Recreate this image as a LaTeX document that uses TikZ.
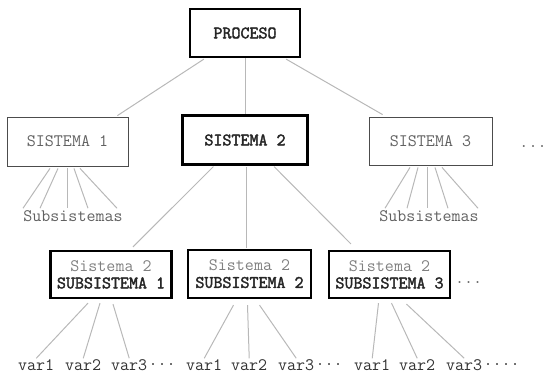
\documentclass[tikz,border=0pt]{standalone}
\usepackage{fontspec}
\newfontfamily\bmono{Latin Modern Mono}[FakeBold=2.2]
\usetikzlibrary{calc}
\definecolor{lgray}{gray}{0.72}
\definecolor{tgray}{gray}{0.38}
\definecolor{sgray}{gray}{0.5}
\definecolor{vgray}{gray}{0.2}
\newcommand{\bt}[1]{{\bmono #1}}
\begin{document}
\begin{tikzpicture}[x=1pt,y=-1pt,
  every node/.style={font=\ttfamily\fontsize{17.5}{17}\selectfont, inner sep=1pt},
  bigbox/.style={draw=black, line width=2.2pt, fill=white, text=black!85, font=\bmono\fontsize{17.5}{17}\selectfont},
  thinbox/.style={draw=black!70, line width=0.8pt, text=tgray},
  subbox/.style={draw=black, line width=2.2pt, align=center, minimum width=121pt, minimum height=47pt},
  conn/.style={draw=lgray, line width=1pt},
  plain/.style={text=tgray},
  vtxt/.style={text=vgray, anchor=west}
]
\useasboundingbox (0,0) rectangle (546,381);

% top
\node[bigbox, minimum width=110pt, minimum height=48pt] (proc) at (245,33) {PROCESO};
\node[thinbox, minimum width=121pt, minimum height=49pt] (s1) at (67.5,141.5) {SISTEMA 1};
\node[bigbox, minimum width=125pt, minimum height=49pt] (s2) at (245,140) {SISTEMA 2};
\node[thinbox, minimum width=123pt, minimum height=48pt] (s3) at (430.5,141) {SISTEMA 3};
\node[plain] (d1) at (533,147) {...};

\node[plain] (ss1) at (73,216) {Subsistemas};
\node[plain] (ss3) at (429,216) {Subsistemas};

% subsystems
\node[subbox] (b1) at (111,274.5) {\textcolor{sgray}{Sistema 2}\\\textcolor{black!85}{\bt{SUBSISTEMA 1}}};
\node[subbox, minimum width=123pt, minimum height=48pt] (b2) at (249.5,274) {\textcolor{sgray}{Sistema 2}\\\textcolor{black!85}{\bt{SUBSISTEMA 2}}};
\node[subbox] (b3) at (389.5,274.5) {\textcolor{sgray}{Sistema 2}\\\textcolor{black!85}{\bt{SUBSISTEMA 3}}};
\node[plain, anchor=west] (d2) at (454,283) {...};

% variables
\node[vtxt] (v11) at (17,365) {var1};
\node[vtxt] (v12) at (64,365) {var2};
\node[vtxt] (v13) at (110,365) {var3};
\node[vtxt, anchor=west, inner sep=0pt] (e1) at (v13.east) {...};
\node[vtxt] (v21) at (185,365) {var1};
\node[vtxt] (v22) at (230,365) {var2};
\node[vtxt] (v23) at (277,365) {var3};
\node[vtxt, anchor=west, inner sep=0pt] (e2) at (v23.east) {...};
\node[vtxt] (v31) at (353,365) {var1};
\node[vtxt] (v32) at (398,365) {var2};
\node[vtxt] (v33) at (445,365) {var3};
\node[vtxt, anchor=west, inner sep=0pt] (e3) at (v33.east) {....};

% connectors level 1
\draw[conn] ($(proc.south west)+(15,1)$) -- ($(s1.north east)+(-11,-1)$);
\draw[conn] (proc.south) -- (s2.north);
\draw[conn] ($(proc.south east)+(-15,1)$) -- ($(s3.north west)+(14,-2)$);

% fans to Subsistemas
\foreach \a/\b in {-17.5/-50, -9.5/-33, -0.5/-6, 6.5/15, 12.5/44}
  \draw[conn] ($(s1.south)+(\a,2)$) -- ($(ss1.north)+(\b,-1)$);
\foreach \a/\b in {-20.5/-44, -12.5/-22, -3.5/-2, 4.5/19, 11.5/49}
  \draw[conn] ($(s3.south)+(\a,2)$) -- ($(ss3.north)+(\b,-1)$);

% level 2
\draw[conn] ($(s2.south west)+(32,1)$) -- ($(b1.north)+(22,-3)$);
\draw[conn] ($(s2.south)+(1,1)$) -- ($(b2.north)+(-3.5,-1)$);
\draw[conn] ($(s2.south east)+(-34.5,1)$) -- ($(b3.north west)+(23,-6)$);

% level 3
\draw[conn] ($(b1.south)+(-23,4)$) -- (v11.north);
\draw[conn] ($(b1.south)+(-11,4)$) -- (v12.north);
\draw[conn] ($(b1.south)+(2,5)$) -- (v13.north);
\draw[conn] ($(b2.south)+(-16,6)$) -- (v21.north);
\draw[conn] ($(b2.south)+(-2,6)$) -- (v22.north);
\draw[conn] ($(b2.south)+(10,6)$) -- (v23.north);
\draw[conn] ($(b3.south)+(-11,4)$) -- (v31.north);
\draw[conn] ($(b3.south)+(2,4)$) -- (v32.north);
\draw[conn] ($(b3.south)+(17,5)$) -- (v33.north);
\end{tikzpicture}
\end{document}
